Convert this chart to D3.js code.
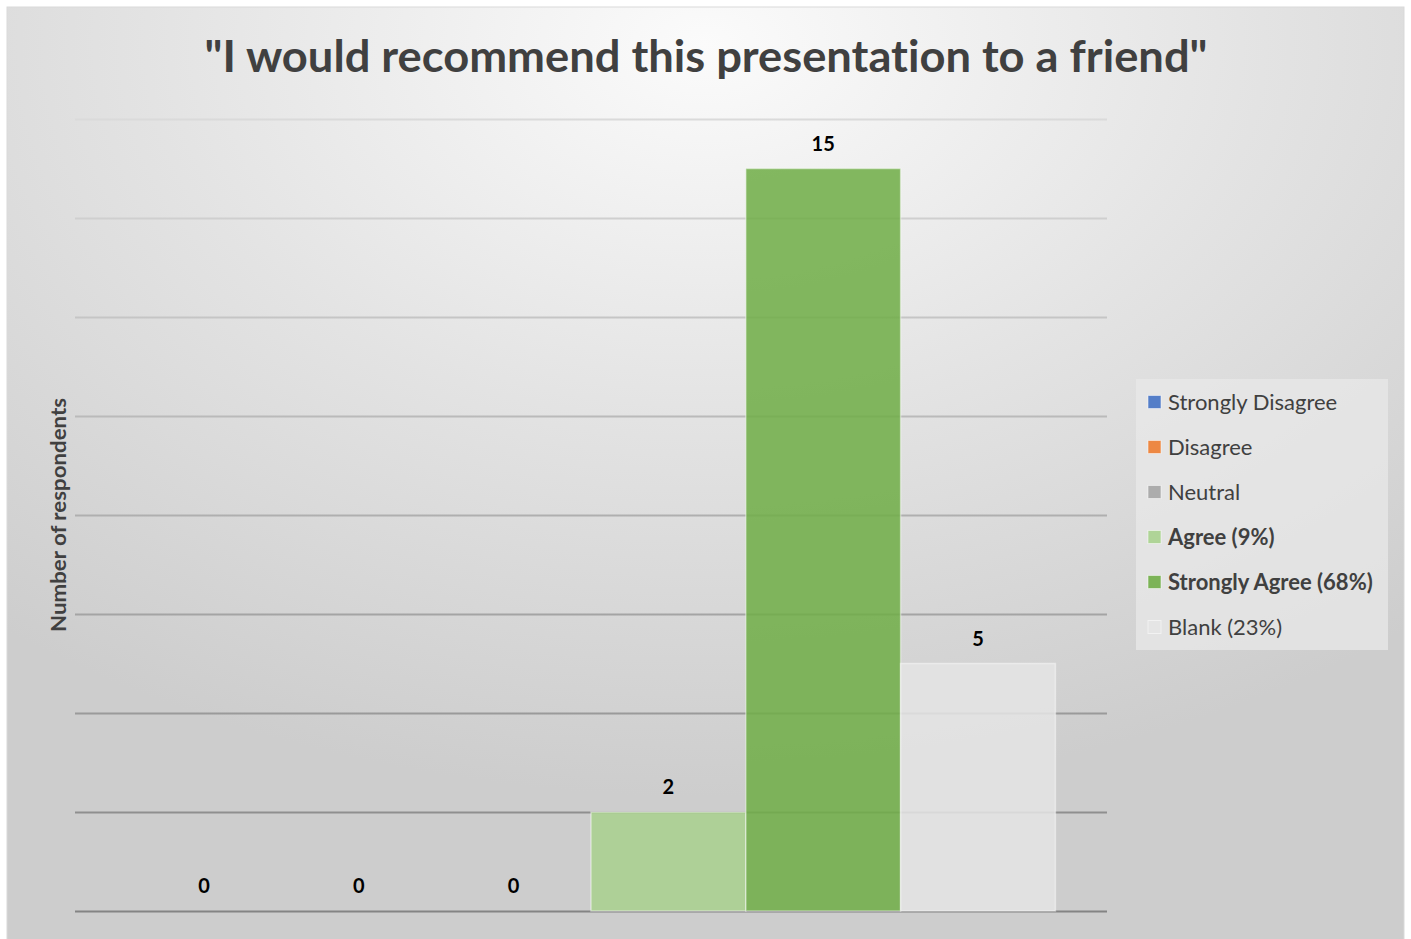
<!DOCTYPE html>
<html>
<head>
<meta charset="utf-8">
<script src="https://cdn.jsdelivr.net/npm/d3@7"></script>
<style>
  html, body { margin: 0; padding: 0; background: #ffffff; }
  svg { display: block; }
  text { font-family: Lato, "Open Sans", "DejaVu Sans", sans-serif; font-variant-ligatures: none; }
</style>
</head>
<body>
<svg id="chart" width="1411" height="939"></svg>
<script>
// Survey responses for a single question, one series per answer option
const categories = ["Responses"];
const seriesNames = ["Strongly Disagree", "Disagree", "Neutral", "Agree", "Strongly Agree", "Blank"];
const seriesValues = [0, 0, 0, 2, 15, 5];
const legendLabels = ["Strongly Disagree", "Disagree", "Neutral", "Agree (9%)", "Strongly Agree (68%)", "Blank (23%)"];
const legendBold = [false, false, false, true, true, false];
const seriesColors = ["#4472C4", "#ED7D31", "#A5A5A5", "#A9D18E", "#70AD47", "#E4E4E4"];
const yTicks = [0, 2, 4, 6, 8, 10, 12, 14, 16];

const titleText = "\"I would recommend this presentation to a friend\"";
const yAxisTitle = "Number of respondents";

const svg = d3.select("#chart");
const defs = svg.append("defs");

// Soft radial backdrop, bright near the title and greying toward the edges
const bg = defs.append("radialGradient")
  .attr("id", "bgGrad")
  .attr("cx", 0.5).attr("cy", 0.04).attr("r", 0.8)
  .attr("fx", 0.5).attr("fy", 0.04);
bg.append("stop").attr("offset", "0%").attr("stop-color", "#fbfbfb");
bg.append("stop").attr("offset", "50%").attr("stop-color", "#e3e3e3");
bg.append("stop").attr("offset", "100%").attr("stop-color", "#cdcdcd");

const area = { x: 7, y: 7, w: 1397, h: 940 };
svg.append("rect")
  .attr("x", area.x).attr("y", area.y)
  .attr("width", area.w).attr("height", area.h)
  .attr("fill", "url(#bgGrad)")
  .attr("stroke", "#d9d9d9").attr("stroke-width", 1);

const plot = { left: 75, right: 1107, top: 119, bottom: 911 };

const y = d3.scaleLinear().domain([0, 16]).range([plot.bottom, plot.top]);
const x0 = d3.scaleBand().domain(categories)
  .range([plot.left, plot.right])
  .paddingInner(0.1).paddingOuter(0.05);
const x1 = d3.scaleBand().domain(seriesNames)
  .range([0, x0.bandwidth()]).padding(0);
const color = d3.scaleOrdinal().domain(seriesNames).range(seriesColors);

// Horizontal gridlines, fading out toward the top of the plot
const gridShade = d3.scaleLinear().domain([0, 16]).range(["#848484", "#dadada"]);
const yAxis = d3.axisLeft(y).tickValues(yTicks)
  .tickSize(-(plot.right - plot.left)).tickFormat("");
const gAxis = svg.append("g")
  .attr("transform", `translate(${plot.left},0)`)
  .call(yAxis);
gAxis.select(".domain").remove();
gAxis.selectAll(".tick line")
  .attr("stroke", d => gridShade(d))
  .attr("stroke-width", 2);

// Bars
const data = seriesNames.map((s, i) => ({ series: s, value: seriesValues[i] }));
const gBars = svg.append("g").attr("transform", `translate(${x0(categories[0])},0)`);
gBars.selectAll("rect.bar")
  .data(data)
  .join("rect")
  .attr("class", "bar")
  .attr("x", d => x1(d.series))
  .attr("y", d => y(d.value))
  .attr("width", x1.bandwidth())
  .attr("height", d => y(0) - y(d.value))
  .attr("fill", d => color(d.series))
  .attr("fill-opacity", 0.86)
  .attr("stroke", "#ffffff")
  .attr("stroke-opacity", 0.45)
  .attr("stroke-width", 1.5);

// Value labels above each bar
gBars.selectAll("text.val")
  .data(data)
  .join("text")
  .attr("class", "val")
  .attr("x", d => x1(d.series) + x1.bandwidth() / 2)
  .attr("y", d => y(d.value) - 18)
  .attr("text-anchor", "middle")
  .attr("font-size", 20)
  .attr("font-weight", 700)
  .attr("fill", "#000000")
  .text(d => d.value);

// Chart title
svg.append("text")
  .attr("x", 706).attr("y", 72)
  .attr("text-anchor", "middle")
  .attr("font-size", 44)
  .attr("font-weight", 700)
  .attr("fill", "#404040")
  .attr("textLength", 1003)
  .attr("lengthAdjust", "spacingAndGlyphs")
  .text(titleText);

// Y axis title
svg.append("text")
  .attr("transform", `translate(66,${(plot.top + plot.bottom) / 2}) rotate(-90)`)
  .attr("text-anchor", "middle")
  .attr("font-size", 21)
  .attr("font-weight", 700)
  .attr("fill", "#404040")
  .attr("textLength", 234)
  .attr("lengthAdjust", "spacingAndGlyphs")
  .text(yAxisTitle);

// Legend
const legend = svg.append("g").attr("transform", "translate(1136,379)");
legend.append("rect")
  .attr("width", 252).attr("height", 271)
  .attr("fill", "#e8e8e8").attr("fill-opacity", 0.75);
const items = legend.selectAll("g.item")
  .data(seriesNames)
  .join("g")
  .attr("class", "item")
  .attr("transform", (d, i) => `translate(0,${23 + i * 45})`);
items.append("rect")
  .attr("x", 12).attr("y", -6.5)
  .attr("width", 13).attr("height", 13)
  .attr("fill", d => color(d))
  .attr("fill-opacity", 0.9)
  .attr("stroke", "#ffffff").attr("stroke-opacity", 0.5).attr("stroke-width", 1);
items.append("text")
  .attr("x", 32).attr("y", 7.5)
  .attr("font-size", 22)
  .attr("font-weight", (d, i) => legendBold[i] ? 700 : 400)
  .attr("fill", "#404040")
  .text((d, i) => legendLabels[i]);
</script>
</body>
</html>
